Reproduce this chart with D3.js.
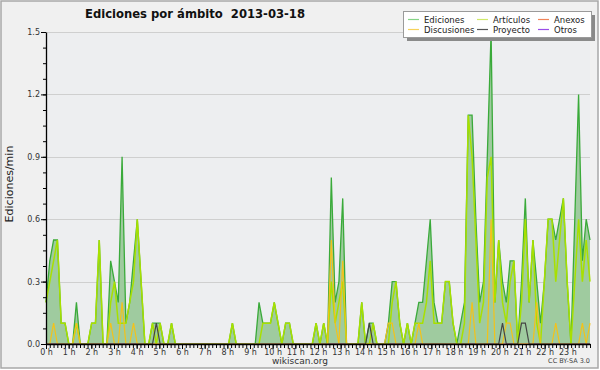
<!DOCTYPE html>
<html><head><meta charset="utf-8">
<script src="https://cdn.jsdelivr.net/npm/d3@7/dist/d3.min.js"></script>
<style>
body{margin:0;background:#fff}
svg{display:block}
text{font-family:"DejaVu Sans",sans-serif}
</style>
</head><body>
<svg id="c" width="600" height="370"></svg>
<script>
// ---------- DATA (10-minute slots, edits per minute) ----------
const title = "Ediciones por ámbito  2013-03-18";
const yLabel = "Ediciones/min";
const hourLabels = ["0 h","1 h","2 h","3 h","4 h","5 h","6 h","7 h","8 h","9 h","10 h","11 h",
  "12 h","13 h","14 h","15 h","16 h","17 h","18 h","19 h","20 h","21 h","22 h","23 h"];
const yTickValues = [0, 0.3, 0.6, 0.9, 1.2, 1.5];
const seriesNames = ["Ediciones","Artículos","Anexos","Discusiones","Proyecto","Otros"];

const ediciones = [
  0.2,0.4,0.5,0.5,0.1,0.1,  0,0,0.2,0,0,0,  0.1,0.1,0.5,0,0,0.4,  0.3,0.2,0.9,0.1,0.2,0.4,
  0.6,0.3,0,0,0.1,0.1,  0.1,0,0,0.1,0,0,  0,0,0,0,0,0,  0,0,0,0,0,0,
  0,0.1,0,0,0,0,  0,0,0.2,0.1,0.1,0.1,  0.2,0.1,0,0.1,0.1,0,  0,0,0,0,0,0.1,
  0,0.1,0,0.8,0.2,0.3,  0.7,0,0,0,0,0.2,  0,0.1,0.1,0,0,0,  0.1,0.3,0.3,0.1,0,0.1,
  0,0.1,0.2,0.2,0.4,0.6,  0.2,0.1,0.1,0.3,0.3,0.1,  0,0.1,0.2,1.1,1.1,0.6,  0.2,0.3,0.9,1.5,0.2,0.5,
  0.3,0.2,0.4,0.4,0,0.3,  0.7,0.2,0.5,0.3,0.1,0.3,  0.6,0.6,0.5,0.6,0.7,0.3,  0,0.6,1.2,0.4,0.6,0.5
];
const articulos = [
  0.2,0.3,0.4,0.5,0.1,0.1,  0,0,0.1,0,0,0,  0.1,0.1,0.5,0,0,0.2,  0.3,0.1,0.1,0.1,0.2,0.3,
  0.6,0.3,0,0,0.1,0,  0.1,0,0,0.1,0,0,  0,0,0,0,0,0,  0,0,0,0,0,0,
  0,0.1,0,0,0,0,  0,0,0,0.1,0.1,0.1,  0.2,0.1,0,0.1,0.1,0,  0,0,0,0,0,0.1,
  0,0.1,0,0.3,0.1,0.2,  0.3,0,0,0,0,0.2,  0,0,0.1,0,0,0,  0,0.2,0.3,0.1,0,0.1,
  0,0.1,0.1,0.1,0.2,0.4,  0.1,0.1,0.1,0.3,0.3,0.1,  0,0,0.1,1.1,0.9,0.5,  0.1,0.2,0.8,0.9,0.2,0.5,
  0.2,0.1,0.3,0.4,0,0.2,  0.6,0.2,0.5,0.1,0,0.3,  0.6,0.6,0.3,0.5,0.7,0.3,  0,0.3,0.6,0.3,0.5,0.3
];
const anexos = [
  0,0,0,0,0,0, 0,0,0,0,0,0, 0,0,0,0,0,0, 0,0,0,0,0,0,
  0,0,0,0,0,0, 0,0,0,0,0,0, 0,0,0,0,0,0, 0,0,0,0,0,0,
  0,0,0,0,0,0, 0,0,0,0,0,0, 0,0,0,0,0,0, 0,0,0,0,0,0,
  0,0,0,0,0,0, 0,0,0,0,0,0, 0,0,0,0,0,0, 0,0,0,0,0,0,
  0,0,0,0,0,0, 0,0,0,0,0,0, 0,0,0,0,0,0, 0,0,0,0,0,0,
  0,0,0,0,0,0, 0,0,0,0,0,0, 0,0,0,0,0,0, 0,0,0,0,0,0
];
const discusiones = [
  0,0,0.1,0,0,0,  0,0,0.1,0,0,0,  0,0,0,0,0,0.1,  0,0,0.2,0,0,0.1,
  0,0,0,0,0,0,  0,0,0,0,0,0,  0,0,0,0,0,0,  0,0,0,0,0,0,
  0,0,0,0,0,0,  0,0,0,0,0,0,  0,0,0,0,0,0,  0,0,0,0,0,0,
  0,0,0,0.5,0.1,0,  0.4,0,0,0,0,0,  0,0,0,0,0,0,  0.1,0.1,0,0,0,0,
  0,0,0.1,0,0,0,  0,0,0,0,0,0,  0,0,0,0,0.2,0,  0,0,0,0.6,0,0,
  0,0.1,0.1,0,0,0,  0,0,0,0.2,0,0,  0,0,0.1,0,0,0,  0,0,0,0.1,0,0.1
];
const proyecto = [
  0,0,0,0,0,0, 0,0,0,0,0,0, 0,0,0,0,0,0, 0,0,0,0,0,0,
  0,0,0,0,0,0.1, 0,0,0,0,0,0, 0,0,0,0,0,0, 0,0,0,0,0,0,
  0,0,0,0,0,0, 0,0,0,0,0,0, 0,0,0,0,0,0, 0,0,0,0,0,0,
  0,0,0,0,0,0, 0,0,0,0,0,0, 0,0.1,0,0,0,0, 0,0,0,0,0,0,
  0,0,0,0,0,0, 0,0,0,0,0,0, 0,0,0,0,0,0, 0,0,0,0,0,0,
  0.1,0,0,0,0,0.1, 0.1,0,0,0,0,0, 0,0,0,0,0,0, 0,0,0,0,0,0
];
const otros = [
  0,0,0,0,0,0, 0,0,0,0,0,0, 0,0,0,0,0,0, 0,0,0,0,0,0,
  0,0,0,0,0,0, 0,0,0,0,0,0, 0,0,0,0,0,0, 0,0,0,0,0,0,
  0,0,0,0,0,0, 0,0,0,0,0,0, 0,0,0,0,0,0, 0,0,0,0,0,0,
  0,0,0,0,0,0, 0,0,0,0,0,0, 0,0,0,0,0,0, 0,0,0,0,0,0,
  0,0,0,0,0,0, 0,0,0,0,0,0, 0,0,0,0,0,0, 0,0,0,0,0,0,
  0,0,0,0,0,0, 0,0,0,0,0,0, 0,0,0,0,0,0, 0,0,0,0,0,0
];

// ---------- CHART ----------
const plot = {left: 46, right: 590, top: 32, bottom: 344};
const svg = d3.select("#c");

svg.append("rect").attr("x", 1).attr("y", 1).attr("width", 597).attr("height", 367)
  .attr("fill", "#f0f0f0").attr("stroke", "#a8a8a8").attr("stroke-width", 1.5);

const x = d3.scaleLinear().domain([0, ediciones.length - 1]).range([plot.left, plot.right]);
const xt = d3.scaleLinear().domain([0, 24]).range([plot.left, plot.right]);
const y = d3.scaleLinear().domain([0, 1.5]).range([plot.bottom, plot.top]);

svg.append("rect").attr("x", plot.left).attr("y", plot.top)
  .attr("width", plot.right - plot.left).attr("height", plot.bottom - plot.top)
  .attr("fill", "#edeef0");

// grid
svg.append("g").selectAll("line").data(yTickValues.filter(v => v > 0)).join("line")
  .attr("x1", plot.left).attr("x2", plot.right)
  .attr("y1", d => Math.round(y(d)) + 0.5).attr("y2", d => Math.round(y(d)) + 0.5)
  .attr("stroke", "#cfcfcf").attr("stroke-width", 1);

// series
const colors = {
  Ediciones: "#3aaa3a", fill: "#9fcb9f", Articulos: "#a8e000", Anexos: "#f07a4a",
  Discusiones: "#f3c21a", Proyecto: "#444444", Otros: "#9a4ee8"
};
const idx = d3.range(ediciones.length);
const area = d3.area().x(i => x(i)).y0(y(0)).y1(i => y(ediciones[i]));
const lineOf = arr => d3.line().x(i => x(i)).y(i => y(arr[i]));

svg.append("path").datum(idx).attr("d", area).attr("fill", colors.fill);
svg.append("path").datum(idx).attr("d", lineOf(ediciones))
  .attr("fill", "none").attr("stroke", colors.Ediciones).attr("stroke-width", 1.3);
svg.append("path").datum(idx).attr("d", lineOf(otros))
  .attr("fill", "none").attr("stroke", colors.Otros).attr("stroke-width", 1.2);
svg.append("path").datum(idx).attr("d", lineOf(anexos))
  .attr("fill", "none").attr("stroke", colors.Anexos).attr("stroke-width", 1.2);
svg.append("path").datum(idx).attr("d", lineOf(articulos))
  .attr("fill", "none").attr("stroke", colors.Articulos).attr("stroke-width", 1.5);
svg.append("path").datum(idx).attr("d", lineOf(discusiones))
  .attr("fill", "none").attr("stroke", colors.Discusiones).attr("stroke-width", 1.2);
svg.append("path").datum(idx).attr("d", lineOf(proyecto))
  .attr("fill", "none").attr("stroke", colors.Proyecto).attr("stroke-width", 1.2);

// y axis
const yMinor = d3.range(0, 21).map(k => k * 0.075);
svg.append("g").attr("transform", `translate(${plot.left},0)`)
  .call(d3.axisLeft(y).tickValues(yMinor).tickSize(3).tickFormat(""))
  .call(g => g.select(".domain").remove())
  .selectAll("line").attr("stroke", "#000");
const yAxis = svg.append("g").attr("transform", `translate(${plot.left},0)`)
  .call(d3.axisLeft(y).tickValues(yTickValues).tickSize(5).tickSizeOuter(0).tickPadding(1)
    .tickFormat(d3.format(".1f")));
yAxis.select(".domain").attr("stroke", "#000").attr("stroke-width", 1.3);
yAxis.selectAll("line").attr("stroke", "#000");
yAxis.selectAll("text").attr("font-size", 8).attr("fill", "#333")
  .attr("font-family", "DejaVu Sans, sans-serif");

// x axis
const xMinor = d3.range(0, 145).map(k => k / 6);
svg.append("g").attr("transform", `translate(0,${plot.bottom})`)
  .call(d3.axisBottom(xt).tickValues(xMinor).tickSize(4).tickFormat(""))
  .call(g => g.select(".domain").remove())
  .selectAll("line").attr("stroke", "#000");
const xAxis = svg.append("g").attr("transform", `translate(0,${plot.bottom})`)
  .call(d3.axisBottom(xt).tickValues(d3.range(0, 24)).tickSize(5).tickSizeOuter(0).tickPadding(0)
    .tickFormat((d, i) => hourLabels[i]));
xAxis.select(".domain").attr("stroke", "#000").attr("stroke-width", 1.5);
xAxis.selectAll("line").attr("stroke", "#000");
xAxis.selectAll("text").attr("font-size", 8).attr("fill", "#333")
  .attr("font-family", "DejaVu Sans, sans-serif");

// titles
svg.append("text").attr("x", 85).attr("y", 18).text(title)
  .attr("font-size", 11.6).attr("font-weight", "bold").attr("fill", "#111")
  .style("white-space", "pre");
svg.append("text").attr("transform", "translate(13,184) rotate(-90)")
  .attr("text-anchor", "middle").text(yLabel)
  .attr("font-size", 11).attr("font-family", "DejaVu Sans Mono, monospace").attr("fill", "#222");
svg.append("text").attr("x", 300).attr("y", 364).attr("text-anchor", "middle")
  .text("wikiscan.org").attr("font-size", 9).attr("fill", "#333");
svg.append("text").attr("x", 590).attr("y", 363).attr("text-anchor", "end")
  .text("CC BY-SA 3.0").attr("font-size", 6.5).attr("fill", "#444");

// legend
const lg = svg.append("g");
lg.append("rect").attr("x", 407).attr("y", 15).attr("width", 188).attr("height", 26).attr("fill", "#8a8a8a");
lg.append("rect").attr("x", 403.5).attr("y", 11.5).attr("width", 188).attr("height", 26)
  .attr("fill", "#fff").attr("stroke", "#9a9a9a");
const legendColors = ["#86d486", "#cfe96a", "#f0845a", "#f6d25a", "#555555", "#9a4ee8"];
const colX = [408, 477, 538];
const rowY = [19.5, 29.5];
seriesNames.forEach((name, k) => {
  const c = k % 3, r = Math.floor(k / 3);
  lg.append("line").attr("x1", colX[c]).attr("x2", colX[c] + 11)
    .attr("y1", rowY[r]).attr("y2", rowY[r]).attr("stroke", legendColors[k]).attr("stroke-width", 1.2);
  lg.append("text").attr("x", colX[c] + 16).attr("y", rowY[r] + 3).text(name)
    .attr("font-size", 8.5).attr("fill", "#222");
});
</script>
</body></html>
